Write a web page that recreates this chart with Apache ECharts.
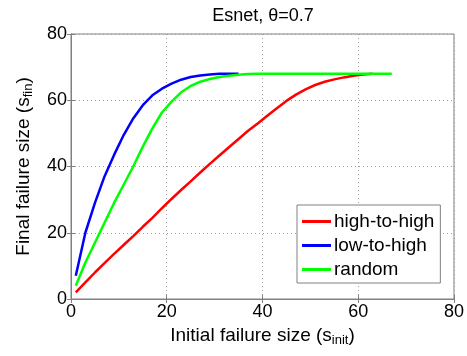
<!DOCTYPE html>
<html>
<head>
<meta charset="utf-8">
<script src="https://cdn.jsdelivr.net/npm/echarts@6/dist/echarts.min.js"></script>
<style>
  html, body { margin: 0; padding: 0; background: #fff; }
  #chart { width: 467px; height: 356px; }
</style>
</head>
<body>
<div id="chart"></div>
<script>
  // initial failure size (x) and final failure size (y) per strategy
  const highX = [1, 3, 5, 7, 9, 11, 13, 15, 17, 19, 21, 23, 25, 27, 29, 31, 33, 35, 37, 39, 41, 43, 45, 47, 49, 51, 53, 55, 57, 59, 61, 63];
  const highY = [2, 5, 8, 10.8, 13.6, 16.3, 19, 21.8, 24.5, 27.4, 30.2, 32.9, 35.5, 38.2, 40.8, 43.3, 45.8, 48.3, 50.8, 53, 55.3, 57.6, 59.8, 61.7, 63.3, 64.6, 65.6, 66.3, 66.9, 67.4, 67.8, 68];

  const lowX = [1, 3, 5, 7, 9, 11, 13, 15, 17, 19, 21, 23, 25, 27, 29, 31, 33, 35];
  const lowY = [7, 20, 29, 37, 43.5, 49.5, 54.5, 58.5, 61.5, 63.5, 65, 66.2, 67, 67.5, 67.8, 68, 68, 68];

  const randX = [1, 3, 5, 7, 9, 11, 13, 15, 17, 19, 21, 23, 25, 27, 29, 31, 33, 35, 37, 39, 43, 47, 51, 55, 59, 63, 67];
  const randY = [4, 11, 17, 23, 29, 34.5, 40, 46, 51.5, 56.3, 59.6, 62.4, 64.3, 65.6, 66.4, 67, 67.4, 67.7, 67.9, 68, 68, 68, 68, 68, 68, 68, 68];

  const xTicks = [0, 20, 40, 60, 80];
  const yTicks = [0, 20, 40, 60, 80];

  const pairs = (xs, ys) => xs.map((x, i) => [x, ys[i]]);

  const chart = echarts.init(document.getElementById('chart'));
  const font = 'Liberation Sans, Arial, sans-serif';
  const axisGray = '#808080';

  const option = {
    animation: false,
    backgroundColor: '#fff',
    title: {
      text: 'Esnet, \u03B8=0.7',
      left: 258,
      textAlign: 'center',
      top: 2,
      textStyle: { fontFamily: font, fontSize: 18, fontWeight: 'normal', color: '#000' }
    },
    grid: {
      left: 71, right: 13, top: 34, bottom: 57,
      show: true, borderColor: axisGray, borderWidth: 1
    },
    legend: {
      orient: 'vertical',
      left: 297,
      top: 205,
      width: 141,
      itemWidth: 29,
      itemHeight: 3,
      itemGap: 5,
      padding: [7, 6, 4, 5],
      icon: 'rect',
      backgroundColor: '#fff',
      borderColor: axisGray,
      borderWidth: 1,
      borderRadius: 0,
      textStyle: { fontFamily: font, fontSize: 19, color: '#000', padding: [0, 0, 0, -2] },
      data: ['high-to-high', 'low-to-high', 'random']
    },
    xAxis: [
      {
        type: 'value', min: xTicks[0], max: xTicks[xTicks.length - 1], interval: 20,
        position: 'bottom',
        name: '{m|Initial failure size (s}{s|init}{m|)}',
        nameLocation: 'middle', nameGap: 25,
        nameTextStyle: {
          rich: {
            m: { fontFamily: font, fontSize: 19, color: '#000' },
            s: { fontFamily: font, fontSize: 13, color: '#000', verticalAlign: 'bottom', padding: [10, 0, 0, 0] }
          }
        },
        axisLine: { show: true, lineStyle: { color: axisGray } },
        axisTick: { show: true, inside: true, length: 4, lineStyle: { color: axisGray } },
        axisLabel: { fontFamily: font, fontSize: 18, color: '#000', margin: 4 },
        splitLine: { show: true, lineStyle: { color: '#a0a0a0', type: [1, 3] } }
      },
      {
        type: 'value', min: 0, max: 80, interval: 20, position: 'top',
        axisLine: { show: true, lineStyle: { color: axisGray } },
        axisTick: { show: true, inside: true, length: 4, lineStyle: { color: axisGray } },
        axisLabel: { show: false }, splitLine: { show: false }
      }
    ],
    yAxis: [
      {
        type: 'value', min: yTicks[0], max: yTicks[yTicks.length - 1], interval: 20,
        position: 'left',
        name: '{m|Final failure size (s}{s|fin}{m|)}',
        nameLocation: 'middle', nameGap: 36, nameRotate: 90,
        nameTextStyle: {
          rich: {
            m: { fontFamily: font, fontSize: 19, color: '#000' },
            s: { fontFamily: font, fontSize: 13, color: '#000', verticalAlign: 'bottom', padding: [10, 0, 0, 0] }
          }
        },
        axisLine: { show: true, lineStyle: { color: axisGray } },
        axisTick: { show: true, inside: true, length: 4, lineStyle: { color: axisGray } },
        axisLabel: { fontFamily: font, fontSize: 18, color: '#000', margin: 4 },
        splitLine: { show: true, lineStyle: { color: '#a0a0a0', type: [1, 3] } }
      },
      {
        type: 'value', min: 0, max: 80, interval: 20, position: 'right',
        axisLine: { show: true, lineStyle: { color: axisGray } },
        axisTick: { show: true, inside: true, length: 4, lineStyle: { color: axisGray } },
        axisLabel: { show: false }, splitLine: { show: false }
      }
    ],
    series: [
      {
        name: 'high-to-high', type: 'line', showSymbol: false,
        lineStyle: { color: '#ff0000', width: 2.5 }, itemStyle: { color: '#ff0000' },
        data: pairs(highX, highY)
      },
      {
        name: 'low-to-high', type: 'line', showSymbol: false,
        lineStyle: { color: '#0000ff', width: 2.5 }, itemStyle: { color: '#0000ff' },
        data: pairs(lowX, lowY)
      },
      {
        name: 'random', type: 'line', showSymbol: false,
        lineStyle: { color: '#00ff00', width: 2.5 }, itemStyle: { color: '#00ff00' },
        data: pairs(randX, randY)
      }
    ]
  };
  chart.setOption(option);
</script>
</body>
</html>
